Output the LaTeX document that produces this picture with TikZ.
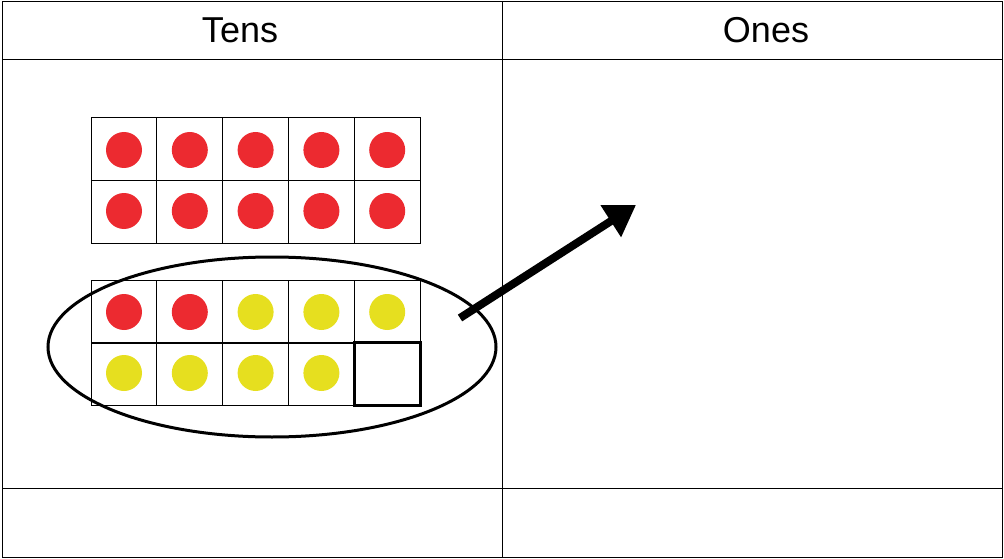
\documentclass[tikz,border=0pt]{standalone}
\usepackage{fontspec}
\setmainfont{Liberation Sans}
\usetikzlibrary{arrows.meta,shapes.geometric}
\definecolor{dotred}{HTML}{EC2A30}
\definecolor{dotyel}{HTML}{E6DF1F}
\tikzset{cell/.style={draw=black,line width=0.8pt},
 rdot/.style={fill=dotred},ydot/.style={fill=dotyel},
 hdr/.style={font=\fontsize{36}{40}\selectfont}}
\begin{document}
\begin{tikzpicture}[x=1pt,y=-1pt]
\useasboundingbox (0,0) rectangle (1004,559);
\draw[line width=1pt] (2,2) rectangle (1002,557);
\draw[line width=1pt] (2,60) -- (1002,60) (2,488) -- (1002,488) (502,2) -- (502,557);
\node[hdr] (tens) at (240,30) {Tens};
\node[hdr] (ones) at (766,30) {Ones};
\foreach \i in {0,...,4}{
 \foreach \r/\y in {0/117,1/180,2/280,3/342}{
  \draw[cell] (91+\i*65.8,\y) rectangle ++(65.8,63);}}
\foreach \i in {0,...,4}{
 \fill[rdot] (124+\i*65.8,150) circle (18);
 \fill[rdot] (124+\i*65.8,211) circle (18);}
\foreach \i in {0,1}{\fill[rdot] (124+\i*65.8,312) circle (18);}
\foreach \i in {2,3,4}{\fill[ydot] (124+\i*65.8,312) circle (18);}
\foreach \i in {0,...,3}{\fill[ydot] (124+\i*65.8,373) circle (18);}
\draw[line width=3pt] (354.2,342) rectangle (420,405);
\node[draw,line width=3pt,ellipse,minimum width=448,minimum height=180,inner sep=0] (ell) at (272,347) {};
\coordinate (a0) at (460,318);
\coordinate (a1) at (636,205);
\draw[line width=8pt,-{Triangle[length=30pt,width=36pt]}] (a0) -- (a1);
\end{tikzpicture}
\end{document}
